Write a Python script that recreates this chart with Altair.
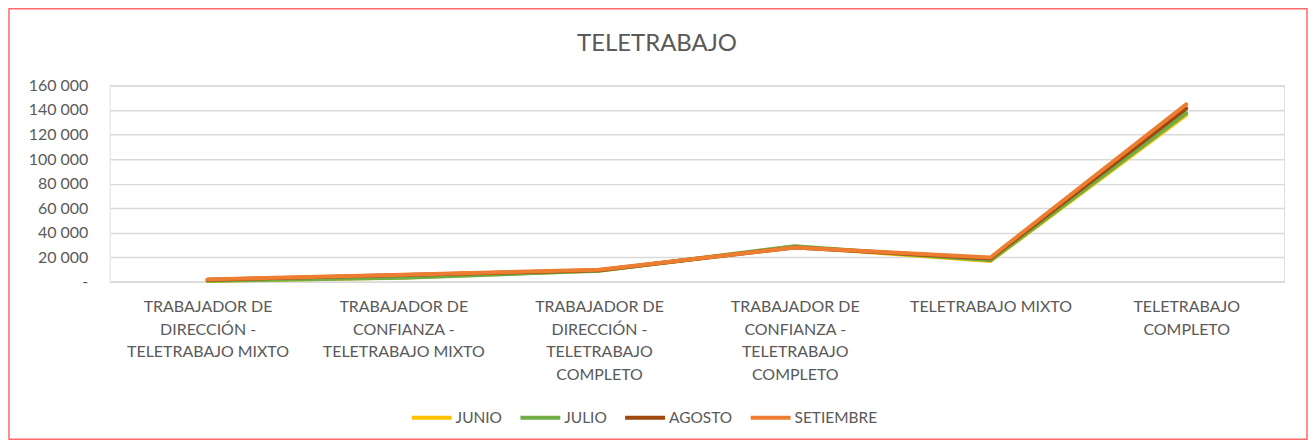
import altair as alt
import pandas as pd

categories = [
    "TRABAJADOR DE\nDIRECCIÓN -\nTELETRABAJO MIXTO",
    "TRABAJADOR DE\nCONFIANZA -\nTELETRABAJO MIXTO",
    "TRABAJADOR DE\nDIRECCIÓN -\nTELETRABAJO\nCOMPLETO",
    "TRABAJADOR DE\nCONFIANZA -\nTELETRABAJO\nCOMPLETO",
    "TELETRABAJO MIXTO",
    "TELETRABAJO\nCOMPLETO",
]
series = ["JUNIO", "JULIO", "AGOSTO", "SETIEMBRE"]
colors = ["#FFC000", "#70AD47", "#9E480E", "#ED7D31"]

junio = [700, 3500, 9200, 28500, 17000, 136000]
julio = [800, 3300, 9000, 29000, 17500, 137500]
agosto = [1700, 5500, 9500, 28000, 19000, 141300]
setiembre = [2000, 5800, 9800, 28000, 19800, 144600]

rows = []
for name, vals in zip(series, [junio, julio, agosto, setiembre]):
    for c, v in zip(categories, vals):
        rows.append({"cat": c, "serie": name, "valor": v})
df = pd.DataFrame(rows)

FONT = "Lato"
TXT = "#595959"

lines = alt.Chart(df).mark_line(strokeWidth=4, strokeCap="round", strokeJoin="round").encode(
    x=alt.X("cat:N", sort=categories, title=None,
            scale=alt.Scale(paddingInner=0, paddingOuter=0.5),
            axis=alt.Axis(labelAngle=0, labelExpr="split(datum.label, '\\n')",
                          labelFont=FONT, labelFontSize=16, labelColor=TXT,
                          labelLineHeight=22.7, labelPadding=17, ticks=False,
                          domainColor="#D9D9D9", domainWidth=1.5, labelLimit=300)),
    y=alt.Y("valor:Q", title=None,
            scale=alt.Scale(domain=[0, 160000], nice=False),
            axis=alt.Axis(values=list(range(0, 160001, 20000)),
                          labelExpr="datum.value == 0 ? '-' : replace(format(datum.value, ','), ',', ' ')",
                          labelFont=FONT, labelFontSize=16, labelColor=TXT,
                          labelPadding=22, ticks=False, domain=False,
                          gridColor="#D9D9D9", gridWidth=1.5)),
    color=alt.Color("serie:N", sort=series,
                    scale=alt.Scale(domain=series, range=colors),
                    legend=alt.Legend(title=None, orient="none", direction="horizontal",
                                      legendX=301, legendY=311,
                                      symbolType="stroke", symbolSize=1600,
                                      symbolStrokeWidth=4, labelOffset=2,
                                      columnPadding=10,
                                      labelFont=FONT, labelFontSize=15.5, labelColor=TXT)),
    order=alt.Order("serie_order:Q"),
).transform_calculate(
    serie_order="indexof(['JUNIO','JULIO','AGOSTO','SETIEMBRE'], datum.serie)"
)

frame = alt.Chart(pd.DataFrame({"a": [0]})).mark_rect(
    fill=None, stroke="#FF6B6B", strokeWidth=1.5
).encode(
    x=alt.value(-101), x2=alt.value(1201),
    y=alt.value(-77), y2=alt.value(355),
)

chart = alt.layer(lines, frame).properties(
    width=1178, height=197,
    padding={"left": 102, "top": 77, "right": 24, "bottom": 159},
    autosize=alt.AutoSizeParams(type="none"),
    title=alt.TitleParams("TELETRABAJO", font=FONT, fontSize=24, fontWeight="normal",
                          color=TXT, anchor="middle", dx=-40, offset=-48),
).configure_view(stroke=None).configure(background="white")

chart.save("out.html", embed_options={"renderer": "svg", "actions": False})
